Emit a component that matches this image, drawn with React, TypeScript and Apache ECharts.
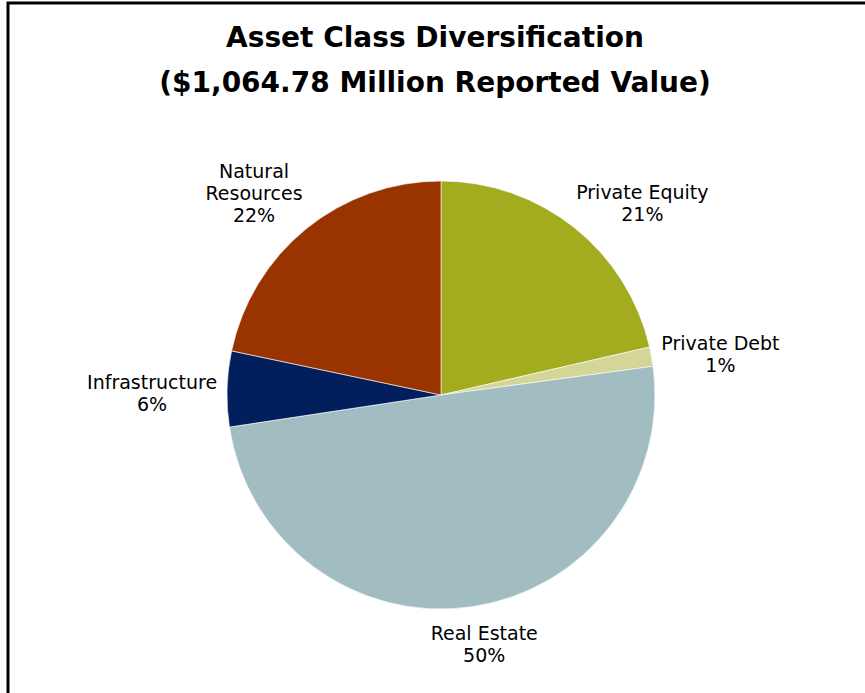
import React, { useEffect, useRef } from "react";
import * as echarts from "echarts";

const titleLines = ["Asset Class Diversification", "($1,064.78 Million Reported Value)"];
const categories = ["Private Equity", "Private Debt", "Real Estate", "Infrastructure", "Natural Resources"];
const values = [227.9, 15.5, 529.7, 60.7, 231.0]; // $ millions
const colors = ["#a3ac1f", "#d3d697", "#a2bdc1", "#001f5c", "#993300"];

const CX = 441;
const CY = 395;
const R = 214;
const GAP = 10;

export default function App() {
  const ref = useRef<HTMLDivElement>(null);
  useEffect(() => {
    if (!ref.current) return;
    const chart = echarts.init(ref.current, undefined, { renderer: "svg" });
    const total = values.reduce((a, b) => a + b, 0);
    const font = "DejaVu Sans, Verdana, sans-serif";
    const clamp = (v: number) => Math.max(-1, Math.min(1, v));
    chart.setOption({
      animation: false,
      backgroundColor: "#ffffff",
      title: {
        text: titleLines.join("\n"),
        left: "center",
        top: 10,
        textStyle: {
          fontFamily: font,
          fontWeight: "bold",
          fontSize: 28,
          lineHeight: 45,
          color: "#000000",
        },
      },
      graphic: [
        {
          type: "rect",
          shape: { x: 8, y: 3, width: 1000, height: 1000 },
          style: { fill: "none", stroke: "#000000", lineWidth: 3 },
          silent: true,
        },
      ],
      series: [
        {
          type: "pie",
          center: [CX, CY],
          radius: R,
          startAngle: 90,
          clockwise: true,
          avoidLabelOverlap: false,
          itemStyle: { borderColor: "#ffffff", borderWidth: 0.6 },
          label: {
            show: true,
            position: "outside",
            fontFamily: font,
            fontSize: 19,
            lineHeight: 22,
            color: "#000000",
            align: "center",
            formatter: (p: any) => {
              const name = p.name.length > 15 ? p.name.replace(" ", "\n") : p.name;
              return name + "\n" + Math.round(p.percent) + "%";
            },
          },
          labelLine: { show: false },
          labelLayout: (p: any) => {
            const idx = p.dataIndex;
            let start = 0;
            for (let i = 0; i < idx; i++) start += values[i];
            const a = ((start + values[idx] / 2) / total) * Math.PI * 2;
            const ux = Math.sin(a);
            const uy = -Math.cos(a);
            const w = p.labelRect.width;
            const h = p.labelRect.height;
            const ex = CX + ux * (R + GAP);
            const ey = CY + uy * (R + GAP);
            return {
              x: ex + (clamp(ux * 1.5) * w) / 2,
              y: ey + (clamp(uy * 1.5) * h) / 2 + 5,
              align: "center",
              verticalAlign: "middle",
            };
          },
          emphasis: { disabled: true },
          data: categories.map((c, i) => ({
            name: c,
            value: values[i],
            itemStyle: { color: colors[i] },
          })),
        },
      ],
    });
    return () => chart.dispose();
  }, []);
  return (
    <div
      ref={ref}
      style={{ position: "fixed", left: 0, top: 0, width: 870, height: 693 }}
    />
  );
}
